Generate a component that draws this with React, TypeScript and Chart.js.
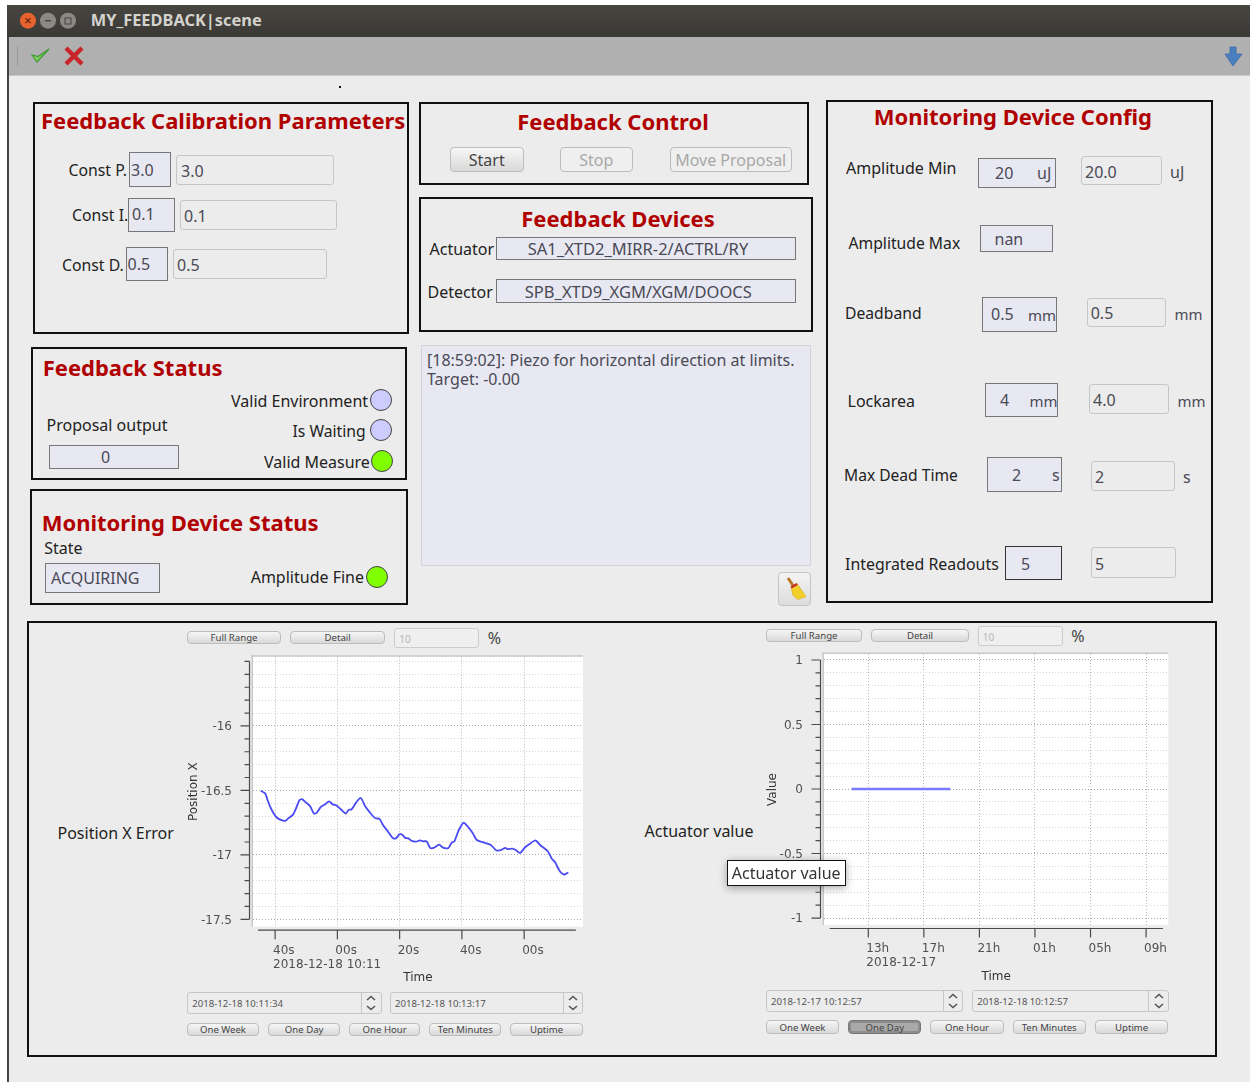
import React, { useEffect, useRef } from "react";
import { Chart, registerables } from "chart.js";

Chart.register(...registerables);

// Position X Error: seconds after 10:11:00 on 2018-12-18, and the reading at that moment
const positionSeconds = [35.4,36.8,37.5,38.4,39.5,40.5,41.8,43.2,44.3,45.7,46.7,47.8,48.6,49.6,51.2,52.5,53.4,54.7,56.1,57.3,58.5,59.6,61.1,62.7,63.6,64.6,66.0,67.5,68.9,70.3,72.1,73.5,74.8,76.1,77.8,78.8,79.9,80.9,81.8,82.8,83.9,85.3,86.6,87.6,88.7,89.8,90.9,92.7,93.9,95.7,96.7,97.6,98.9,100.5,102.1,103.5,104.8,106.9,109.3,111.0,112.5,113.9,114.7,116.2,117.3,118.7,120.3,121.9,123.6,125.1,127.6,128.9,129.9,131.3,132.4,133.1,134.2];
const positionValues = [-16.503,-16.523,-16.569,-16.626,-16.677,-16.71,-16.728,-16.736,-16.715,-16.69,-16.641,-16.577,-16.567,-16.587,-16.621,-16.679,-16.672,-16.628,-16.608,-16.585,-16.608,-16.615,-16.646,-16.679,-16.651,-16.646,-16.595,-16.559,-16.621,-16.667,-16.715,-16.721,-16.774,-16.813,-16.869,-16.872,-16.841,-16.844,-16.869,-16.872,-16.892,-16.897,-16.887,-16.895,-16.895,-16.946,-16.946,-16.921,-16.944,-16.946,-16.905,-16.895,-16.813,-16.751,-16.787,-16.833,-16.885,-16.903,-16.923,-16.964,-16.964,-16.946,-16.956,-16.951,-16.962,-16.985,-16.941,-16.913,-16.887,-16.923,-16.972,-17.031,-17.056,-17.121,-17.149,-17.151,-17.136];
const positionXTicks = [40, 60, 80, 100, 120];
const positionXLabels = [["40s", "2018-12-18 10:11"], "00s", "20s", "40s", "00s"];
const positionYTicks = [-15.5,-15.6,-15.7,-15.8,-15.9,-16,-16.1,-16.2,-16.3,-16.4,-16.5,-16.6,-16.7,-16.8,-16.9,-17,-17.1,-17.2,-17.3,-17.4,-17.5];
const positionYLabelled = [-16, -16.5, -17, -17.5];

// Actuator value: hours after 00:00 on 2018-12-17
const actuatorHours = [11.8, 13, 15, 17, 18.9];
const actuatorValues = [0, 0, 0, 0, 0];
const actuatorXTicks = [13, 17, 21, 25, 29, 33];
const actuatorXLabels = [["13h", "2018-12-17"], "17h", "21h", "01h", "05h", "09h"];
const actuatorYTicks = [1,0.9,0.8,0.7,0.6,0.5,0.4,0.3,0.2,0.1,0,-0.1,-0.2,-0.3,-0.4,-0.5,-0.6,-0.7,-0.8,-0.9,-1];
const actuatorYLabelled = [1, 0.5, 0, -0.5, -1];

const UI = '"Noto Sans", sans-serif';
const AXIS_FONT = '"DejaVu Sans", sans-serif';

const qwtFrame = {
  id: "qwtFrame",
  beforeDraw(chart: any) {
    const { ctx, chartArea: a } = chart;
    ctx.save();
    ctx.fillStyle = "#ffffff";
    ctx.fillRect(a.left, a.top, a.right - a.left, a.bottom - a.top);
    ctx.fillStyle = "#c8c8c8";
    ctx.fillRect(a.left - 1.5, a.top - 1.5, a.right - a.left + 1.5, 1.5);
    ctx.fillRect(a.left - 1.5, a.top - 1.5, 1.5, a.bottom - a.top + 1.5);
    ctx.restore();
  },
  afterDraw(chart: any, _args: any, o: any) {
    const { ctx, chartArea: a, scales } = chart;
    const ax = a.left - 3.5;
    const ay = a.bottom + 3.5;
    ctx.save();
    ctx.strokeStyle = "#4a4a4a";
    ctx.lineWidth = 1.2;
    ctx.beginPath();
    ctx.moveTo(scales.x.getPixelForValue(o.xFrom), ay);
    ctx.lineTo(scales.x.getPixelForValue(o.xTo), ay);
    scales.x.ticks.forEach((t: any) => {
      const p = scales.x.getPixelForValue(t.value);
      ctx.moveTo(p, ay);
      ctx.lineTo(p, ay + 9);
    });
    ctx.moveTo(ax, scales.y.getPixelForValue(o.yFrom));
    ctx.lineTo(ax, scales.y.getPixelForValue(o.yTo));
    scales.y.ticks.forEach((t: any) => {
      const p = scales.y.getPixelForValue(t.value);
      ctx.moveTo(ax, p);
      ctx.lineTo(ax - (o.labelled.includes(t.value) ? 9 : 5), p);
    });
    ctx.stroke();
    ctx.restore();
  },
};

const noPadding = (s: any) => {
  s.paddingLeft = 0;
  s.paddingRight = 0;
  s.paddingTop = 0;
  s.paddingBottom = 0;
};

function buildChart(canvas: HTMLCanvasElement, c: any) {
  const major = (v: number) => c.yLabelled.includes(v);
  return new Chart(canvas, {
    type: "line",
    data: {
      datasets: [{
        data: c.xs.map((x: number, i: number) => ({ x, y: c.ys[i] })),
        borderColor: c.color,
        borderWidth: c.width,
        pointRadius: 0,
        tension: 0.25,
      }],
    },
    options: {
      animation: false,
      responsive: false,
      layout: { padding: { top: c.padTop, right: c.padRight, left: 0, bottom: 0 } },
      plugins: {
        legend: { display: false },
        tooltip: { enabled: false },
        qwtFrame: { xFrom: c.xFrom, xTo: c.xTo, yFrom: c.yFrom, yTo: c.yTo, labelled: c.yLabelled },
      },
      scales: {
        x: {
          type: "linear",
          min: c.xMin,
          max: c.xMax,
          afterFit: (s: any) => { s.height = c.xHeight; noPadding(s); },
          afterBuildTicks: (s: any) => { s.ticks = c.xTicks.map((value: number) => ({ value })); },
          border: { display: false, dash: [1, 2] },
          grid: { color: "#b8b8b8", lineWidth: 1, drawTicks: false },
          ticks: {
            autoSkip: false, maxRotation: 0, minRotation: 0, align: "start", padding: c.xPad, labelOffset: -2,
            color: "#505050", font: { family: AXIS_FONT, size: 12 },
            callback: (_v: any, i: number) => c.xLabels[i],
          },
          title: { display: true, text: "Time", color: "#333", font: { family: AXIS_FONT, size: 12 }, padding: { top: 0, bottom: c.timePad } },
        },
        y: {
          type: "linear",
          min: c.yMin,
          max: c.yMax,
          afterFit: (s: any) => { s.width = c.yWidth; noPadding(s); },
          afterBuildTicks: (s: any) => { s.ticks = c.yTicks.map((value: number) => ({ value })); },
          border: { display: false, dash: [1, 2] },
          grid: { color: (ctx: any) => (major(ctx.tick?.value) ? "#a8a8a8" : "#d8d8d8"), lineWidth: 1, drawTicks: false },
          ticks: {
            autoSkip: false, padding: 21, labelOffset: 1.2, color: "#505050", font: { family: AXIS_FONT, size: 12 },
            callback: (v: any) => (major(v) ? String(v) : ""),
          },
          title: { display: true, text: c.yTitle, color: "#333", font: { family: AXIS_FONT, size: 12 }, padding: { top: c.yTitlePad, bottom: 0 } },
        },
      },
    } as any,
    plugins: [qwtFrame],
  } as any);
}

type P = { x: number; y: number; s: React.ReactNode; size?: number; color?: string; weight?: number; center?: boolean; sp?: number };
const T = ({ x, y, s, size = 16, color = "#222", weight = 400, center, sp }: P) => (
  <div style={{ position: "absolute", left: x, top: size === 16 ? y : y + 0.8, transform: `translate(${center ? "-50%" : "0"},-50%)`, whiteSpace: "nowrap", lineHeight: 1, fontFamily: UI, fontSize: size, color, fontWeight: weight, letterSpacing: sp }}>{s}</div>
);
const H = (p: P) => <T size={22} color="#b00000" weight={700} {...p} y={p.y - 1.8} />;

const Box = ({ b, style, children }: { b: number[]; style?: React.CSSProperties; children?: React.ReactNode }) => (
  <div style={{ position: "absolute", left: b[0], top: b[1], width: b[2] - b[0], height: b[3] - b[1], boxSizing: "border-box", ...style }}>{children}</div>
);
const Panel = ({ b }: { b: number[] }) => <Box b={b} style={{ border: "2px solid #111" }} />;
const Ind = ({ b, dark }: { b: number[]; dark?: boolean }) => <Box b={b} style={{ background: "#e8e8f2", border: `1.5px solid ${dark ? "#333" : "#777"}` }} />;
const Inp = ({ b }: { b: number[] }) => <Box b={b} style={{ background: "#ececec", border: "1.5px solid #c6c6c6", borderRadius: 3 }} />;
const Btn = ({ b, s, size = 9.6, off, down }: { b: number[]; s: string; size?: number; off?: boolean; down?: boolean }) => (
  <Box b={b} style={{
    border: `1px solid ${down ? "#777" : "#bdbdbd"}`, borderRadius: 4,
    background: off ? "#efefef" : down ? "#a9a9a9" : "linear-gradient(#f6f6f6,#d9d9d9)",
    boxShadow: down ? "inset 0 0 0 2px #8c8c8c" : undefined,
    display: "flex", alignItems: "center", justifyContent: "center",
    fontFamily: UI, fontSize: size, color: off ? "#a8a8a8" : "#444", whiteSpace: "nowrap",
  }}>{s}</Box>
);
const Lamp = ({ x, y, on }: { x: number; y: number; on?: boolean }) => (
  <div style={{ position: "absolute", left: x - 11, top: y - 11, width: 22, height: 22, boxSizing: "border-box", borderRadius: "50%", border: "1.5px solid #444", background: on ? "#7fff00" : "#ccccff" }} />
);
const Spin = ({ b, sep, s }: { b: number[]; sep: number; s: string }) => {
  const cx = (sep + b[2]) / 2;
  const cy = (b[1] + b[3]) / 2;
  return (
    <>
      <Box b={b} style={{ background: "#ececec", border: "1.5px solid #c6c6c6", borderRadius: 3 }} />
      <Box b={[sep, b[1], sep + 1, b[3]]} style={{ background: "#c6c6c6" }} />
      <svg style={{ position: "absolute", left: cx - 6, top: cy - 9 }} width={12} height={18}>
        <polyline points="2,6 6,2.5 10,6" fill="none" stroke="#555" strokeWidth={1.6} />
        <polyline points="2,12 6,15.5 10,12" fill="none" stroke="#555" strokeWidth={1.6} />
      </svg>
      <T x={b[0] + 5} y={cy} s={s} size={9.6} color="#555" />
    </>
  );
};

const Controls = ({ r }: { r: any }) => (
  <>
    <Btn b={r.full} s="Full Range" />
    <Btn b={r.detail} s="Detail" />
    <Box b={r.pct} style={{ background: "#efefef", border: "1.5px solid #ccc", borderRadius: 3 }} />
    <T x={r.pct[0] + 5} y={(r.pct[1] + r.pct[3]) / 2} s="10" size={10} color="#b5b5b5" />
    <T x={r.pct[2] + 8.5} y={(r.pct[1] + r.pct[3]) / 2} s="%" size={16} color="#444" />
    <Spin b={r.d1} sep={r.s1} s={r.t1} />
    <Spin b={r.d2} sep={r.s2} s={r.t2} />
    {r.btns.map((b: any, i: number) => <Btn key={i} b={b[0]} s={b[1]} down={b[2]} />)}
  </>
);

export default function App() {
  const left = useRef<HTMLCanvasElement>(null);
  const right = useRef<HTMLCanvasElement>(null);
  useEffect(() => {
    const a = buildChart(left.current!, {
      xs: positionSeconds, ys: positionValues, color: "#4a4af2", width: 1.8,
      xMin: 32.9, xMax: 138.9, yMin: -17.557, yMax: -15.463,
      xFrom: 34.5, xTo: 136.6, yFrom: -15.5, yTo: -17.5,
      xTicks: positionXTicks, xLabels: positionXLabels, yTicks: positionYTicks, yLabelled: positionYLabelled,
      yTitle: "Position X", padTop: 6.7, padRight: 7, xHeight: 60.3, yWidth: 73, xPad: 16.8, timePad: 1.8, yTitlePad: 6.5,
    });
    const b = buildChart(right.current!, {
      xs: actuatorHours, ys: actuatorValues, color: "#7a7aff", width: 2.5,
      xMin: 9.81, xMax: 34.6, yMin: -1.054, yMax: 1.0465,
      xFrom: 10.216, xTo: 34.216, yFrom: 1, yTo: -1,
      xTicks: actuatorXTicks, xLabels: actuatorXLabels, yTicks: actuatorYTicks, yLabelled: actuatorYLabelled,
      yTitle: "Value", padTop: 6, padRight: 7.7, xHeight: 62, yWidth: 73, xPad: 16.5, timePad: 3.3, yTitlePad: 14.5,
    });
    return () => { a.destroy(); b.destroy(); };
  }, []);

  return (
    <div style={{ position: "absolute", left: 0, top: 0, width: 1250, height: 1082, background: "#fff", overflow: "hidden" }}>
      {/* window */}
      <Box b={[7, 5, 1250, 1082]} style={{ background: "#ececec", borderLeft: "2px solid #444" }} />
      <Box b={[7, 5, 1250, 37]} style={{ background: "linear-gradient(#474641,#3a3935)" }} />
      <Box b={[9, 37, 1250, 76]} style={{ background: "#b0b0b0", borderBottom: "1px solid #c8c8c8" }} />
      <svg style={{ position: "absolute", left: 0, top: 0 }} width={100} height={80}>
        <circle cx={28} cy={20.7} r={8} fill="#e8622e" />
        <path d="M25.5 18.2l5 5m0-5l-5 5" stroke="#5a2510" strokeWidth={1.2} />
        <circle cx={48} cy={20.7} r={8} fill="#8a8984" />
        <path d="M45 20.7h6" stroke="#444" strokeWidth={1.4} />
        <circle cx={68} cy={20.7} r={8} fill="#8a8984" />
        <rect x={65} y={18} width={6} height={6} fill="none" stroke="#444" strokeWidth={1} />
        <path d="M17.5 46v20" stroke="#9a9a9a" strokeWidth={1} />
        <path d="M32 55l5 7 12-13-11 7.5z" fill="#7ed05a" stroke="#3f9a3a" strokeWidth={1.2} />
        <path d="M66 48l16 16m0-16L66 64" stroke="#c8242a" strokeWidth={4.5} />
      </svg>
      <svg style={{ position: "absolute", left: 1222, top: 45 }} width={24} height={24}>
        <path d="M8 2h6v7h6l-9 12L3 9h5z" fill="#4a7fc0" stroke="#3a6aa8" strokeWidth={0.8} />
      </svg>
      <T x={90.7} y={19.2} s="MY_FEEDBACK|scene" size={16.4} weight={700} color="#d3d2cc" />
      <Box b={[339, 86, 341, 88]} style={{ background: "#111" }} />
      <Box b={[807, 457, 809, 459]} style={{ background: "#111" }} />

      {/* Feedback Calibration Parameters */}
      <Panel b={[32.5, 102, 409, 334]} />
      <H x={41} y={121} s="Feedback Calibration Parameters" />
      <T x={68.5} y={170} s="Const P." size={15.8} />
      <Ind b={[129, 152.3, 171, 186.7]} />
      <T x={131} y={169.5} s="3.0" color="#4a4a55" />
      <Inp b={[176, 154.5, 333.5, 184.7]} />
      <T x={181} y={170.5} s="3.0" color="#4a4a55" />
      <T x={72} y={215} s="Const I." size={15.8} />
      <Ind b={[128, 197.5, 174.5, 231.5]} />
      <T x={132} y={214} s="0.1" color="#4a4a55" />
      <Inp b={[179.5, 199.5, 336.5, 229.5]} />
      <T x={184} y={215.5} s="0.1" color="#4a4a55" />
      <T x={62} y={265} s="Const D." size={15.8} />
      <Ind b={[125.5, 246.7, 168, 281]} />
      <T x={127.5} y={264} s="0.5" color="#4a4a55" />
      <Inp b={[172.7, 248.7, 326.7, 278.7]} />
      <T x={177} y={265} s="0.5" color="#4a4a55" />

      {/* Feedback Control */}
      <Panel b={[418.5, 102, 809, 185]} />
      <H x={613} y={122} s="Feedback Control" center />
      <Btn b={[450, 147, 523.5, 172.3]} s="Start" size={16} />
      <Btn b={[560, 147, 632.7, 172.3]} s="Stop" size={16} off />
      <Btn b={[669.7, 147, 791.7, 172.3]} s="Move Proposal" size={16} off />

      {/* Feedback Devices */}
      <Panel b={[418.5, 196.5, 812.5, 332]} />
      <H x={618} y={219} s="Feedback Devices" center />
      <T x={429.5} y={249} s="Actuator" />
      <Ind b={[496.3, 236.7, 796.3, 260.3]} />
      <T x={638} y={248.5} s="SA1_XTD2_MIRR-2/ACTRL/RY" center color="#4a4a55" size={16.5} />
      <T x={427.5} y={292} s="Detector" />
      <Ind b={[496.3, 279.3, 796.3, 303]} />
      <T x={638.3} y={291.5} s="SPB_XTD9_XGM/XGM/DOOCS" center color="#4a4a55" size={16.5} />

      {/* Log */}
      <Box b={[420.7, 345, 811, 566]} style={{ background: "#e8e8f2", border: "1.5px solid #d4d4d8" }} />
      <T x={427} y={360} s="[18:59:02]: Piezo for horizontal direction at limits." color="#4a4a55" />
      <T x={427} y={379} s="Target: -0.00" color="#4a4a55" />
      <Box b={[778.3, 572.3, 810.7, 605.7]} style={{ background: "linear-gradient(#f4f4f4,#dcdcdc)", border: "1px solid #c4c4c4", borderRadius: 4 }} />
      <svg style={{ position: "absolute", left: 780, top: 574 }} width={30} height={30}>
        <path d="M8 4l6 9" stroke="#b8782a" strokeWidth={3} />
        <path d="M11 13l6-3.5 9 13-8 3-5-4z" fill="#f2cf2a" stroke="#d8a818" strokeWidth={0.6} />
        <path d="M10.5 12.5l6-3.5 1.2 2-6 3.5z" fill="#c8302a" />
      </svg>

      {/* Monitoring Device Config */}
      <Panel b={[825.5, 99.5, 1213, 603]} />
      <H x={1012.8} y={117} s="Monitoring Device Config" center />
      <T x={846} y={168} s="Amplitude Min" />
      <Ind b={[977.7, 157.7, 1056.3, 188]} />
      <T x={995} y={173} s="20" color="#4a4a55" />
      <T x={1037} y={173} s="uJ" color="#4a4a55" />
      <Inp b={[1081, 155.7, 1161.7, 185.3]} />
      <T x={1085} y={172} s="20.0" color="#4a4a55" />
      <T x={1170} y={172} s="uJ" color="#4a4a55" />
      <T x={848.5} y={243} s="Amplitude Max" size={15.7} />
      <Ind b={[980, 224.7, 1053, 252.3]} />
      <T x={994.5} y={239} s="nan" color="#4a4a55" />
      <T x={845} y={313} s="Deadband" size={15.7} />
      <Ind b={[982.3, 297.3, 1057.3, 331.7]} />
      <T x={991} y={314} s="0.5" color="#4a4a55" />
      <T x={1028} y={314} s="mm" color="#4a4a55" size={15} />
      <Inp b={[1086.7, 297.7, 1165.7, 327.3]} />
      <T x={1090.7} y={313} s="0.5" color="#4a4a55" />
      <T x={1174.5} y={313} s="mm" color="#4a4a55" size={15} />
      <T x={847.5} y={401} s="Lockarea" />
      <Ind b={[985.3, 382.7, 1058.3, 417.3]} />
      <T x={1000} y={400} s="4" color="#4a4a55" />
      <T x={1029.5} y={400} s="mm" color="#4a4a55" size={15} />
      <Inp b={[1088.7, 384, 1169, 413.7]} />
      <T x={1093} y={400} s="4.0" color="#4a4a55" />
      <T x={1177.5} y={400} s="mm" color="#4a4a55" size={15} />
      <T x={844} y={475.5} s="Max Dead Time" size={15.6} />
      <Ind b={[986.7, 457.3, 1061.7, 491.7]} />
      <T x={1012} y={475} s="2" color="#4a4a55" />
      <T x={1052} y={475} s="s" color="#4a4a55" />
      <Inp b={[1090.7, 460.7, 1174.7, 490.7]} />
      <T x={1095} y={477} s="2" color="#4a4a55" />
      <T x={1183} y={477} s="s" color="#4a4a55" />
      <T x={845} y={564} s="Integrated Readouts" size={15.9} />
      <Ind b={[1005.3, 546.3, 1061.7, 580.3]} dark />
      <T x={1021} y={563.5} s="5" color="#4a4a55" />
      <Inp b={[1090.7, 547.3, 1175.7, 577.7]} />
      <T x={1095} y={563.5} s="5" color="#4a4a55" />

      {/* Feedback Status */}
      <Panel b={[30.7, 346.7, 406.7, 480]} />
      <H x={42.7} y={368} s="Feedback Status" />
      <T x={231} y={401} s="Valid Environment" />
      <Lamp x={381} y={400} />
      <T x={292.5} y={430.7} s="Is Waiting" size={15.7} />
      <Lamp x={381} y={429.7} />
      <T x={264} y={462} s="Valid Measure" />
      <Lamp x={382} y={461.3} on />
      <T x={46.5} y={425} s="Proposal output" />
      <Ind b={[49, 445.3, 179, 469]} />
      <T x={105.5} y={457} s="0" center color="#4a4a55" />

      {/* Monitoring Device Status */}
      <Panel b={[29.5, 488.7, 408, 605]} />
      <H x={41.7} y={523} s="Monitoring Device Status" />
      <T x={44.3} y={548} s="State" />
      <Ind b={[45.3, 562.7, 160.3, 592.7]} />
      <T x={51} y={577.5} s="ACQUIRING" color="#4a4a55" />
      <T x={250.7} y={577} s="Amplitude Fine" />
      <Lamp x={377} y={577} on />

      {/* Plots */}
      <Panel b={[27, 621, 1216.5, 1057]} />
      <T x={57.5} y={833} s="Position X Error" />
      <T x={644.5} y={831} s="Actuator value" />
      <canvas ref={left} width={410} height={337} style={{ position: "absolute", left: 180, top: 650, width: 410, height: 337 }} />
      <canvas ref={right} width={425} height={339} style={{ position: "absolute", left: 751, top: 648, width: 425, height: 339 }} />
      <Controls r={{
        full: [187.3, 630.7, 280.7, 644.3], detail: [290.3, 630.7, 385, 644.3], pct: [394.3, 627.7, 479.3, 647.7],
        d1: [187.3, 992.3, 381.7, 1014.3], s1: 360.7, t1: "2018-12-18 10:11:34",
        d2: [390, 992.3, 583.3, 1014.3], s2: 562.7, t2: "2018-12-18 10:13:17",
        btns: [
          [[187.3, 1022.7, 258.7, 1036], "One Week"], [[268.3, 1022.7, 340, 1036], "One Day"],
          [[349.3, 1022.7, 420, 1036], "One Hour"], [[429.3, 1022.7, 501.3, 1036], "Ten Minutes"],
          [[510.3, 1022.7, 582.7, 1036], "Uptime"],
        ],
      }} />
      <Controls r={{
        full: [766, 628.7, 862, 642.3], detail: [871.3, 628.7, 968.7, 642.3], pct: [977.7, 625.7, 1062.7, 645.7],
        d1: [766, 990, 963.3, 1012], s1: 943.3, t1: "2018-12-17 10:12:57",
        d2: [972.3, 990, 1169, 1012], s2: 1148.3, t2: "2018-12-18 10:12:57",
        btns: [
          [[766, 1020.3, 839, 1033.7], "One Week"], [[848.3, 1020.3, 921.3, 1033.7], "One Day", true],
          [[930.3, 1020.3, 1003.7, 1033.7], "One Hour"], [[1012.7, 1020.3, 1085.7, 1033.7], "Ten Minutes"],
          [[1095.3, 1020.3, 1168, 1033.7], "Uptime"],
        ],
      }} />
      <Box b={[726.7, 860, 845.7, 885.7]} style={{ background: "#fff", border: "1.5px solid #111", boxShadow: "0 2px 8px rgba(0,0,0,.35)" }} />
      <T x={786.2} y={873} s="Actuator value" center color="#333" />
    </div>
  );
}
